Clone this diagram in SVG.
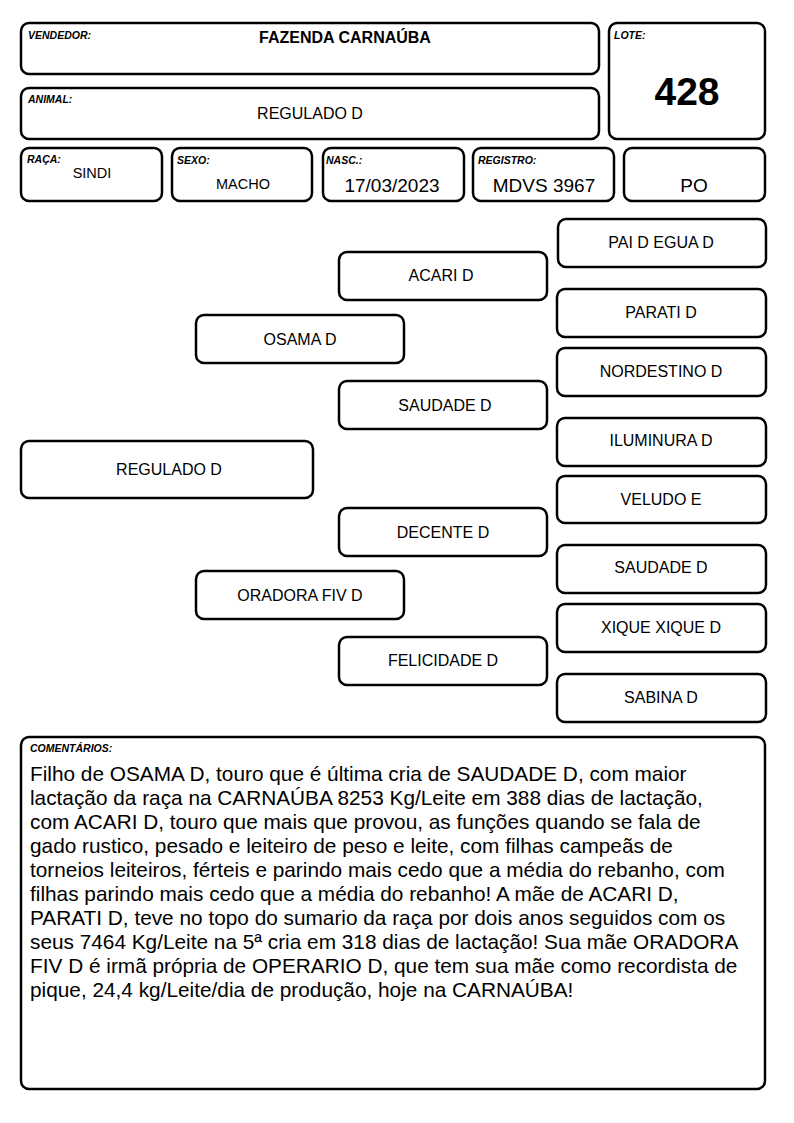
<svg xmlns="http://www.w3.org/2000/svg" width="794" height="1123" viewBox="0 0 794 1123">
<style>
rect.b{fill:#fff;stroke:#000;stroke-width:2.5}
text{font-family:"Liberation Sans",Arial,sans-serif;fill:#000}
.lbl{font-size:10.5px;font-weight:bold;font-style:italic}
.v{font-size:16px;text-anchor:middle}
.p{font-size:16px;text-anchor:middle}
.c{font-size:20.8px}
</style>
<rect width="794" height="1123" fill="#fff"/>
<g id="vendedor"><rect class="b" x="21" y="23" width="578" height="51" rx="8"/><text class="lbl" x="28" y="39">VENDEDOR:</text><text class="v" x="345" y="43" style="font-weight:bold">FAZENDA CARNAÚBA</text></g>
<g id="animal"><rect class="b" x="21" y="88" width="578" height="51" rx="8"/><text class="lbl" x="28" y="103">ANIMAL:</text><text class="v" x="310" y="119">REGULADO D</text></g>
<g id="lote"><rect class="b" x="609" y="23" width="156" height="116" rx="8"/><text class="lbl" x="614" y="39">LOTE:</text><text x="687" y="105" style="font-size:39px;font-weight:bold;text-anchor:middle">428</text></g>
<g id="raca"><rect class="b" x="21" y="148" width="141" height="53" rx="8"/><text class="lbl" x="27" y="163">RAÇA:</text><text class="v" x="92" y="178" style="font-size:14.5px">SINDI</text></g>
<g id="sexo"><rect class="b" x="172" y="148" width="140" height="53" rx="8"/><text class="lbl" x="177" y="164">SEXO:</text><text class="v" x="243" y="189" style="font-size:14.5px">MACHO</text></g>
<g id="nasc"><rect class="b" x="323" y="148" width="141" height="53" rx="8"/><text class="lbl" x="326" y="164">NASC.:</text><text class="v" x="392" y="192" style="font-size:19px">17/03/2023</text></g>
<g id="registro"><rect class="b" x="473" y="148" width="141" height="53" rx="8"/><text class="lbl" x="478" y="164">REGISTRO:</text><text class="v" x="544" y="192" style="font-size:19px">MDVS 3967</text></g>
<g id="po"><rect class="b" x="624" y="148" width="141" height="53" rx="8"/><text class="v" x="694" y="192" style="font-size:19px">PO</text></g>
<g id="n-regulado"><rect class="b" x="21" y="441" width="292" height="57" rx="8"/><text class="p" x="169" y="475">REGULADO D</text></g>
<g id="n-osama"><rect class="b" x="196" y="315" width="208" height="48" rx="8"/><text class="p" x="300" y="345">OSAMA D</text></g>
<g id="n-oradora"><rect class="b" x="196" y="571" width="208" height="48" rx="8"/><text class="p" x="300" y="601">ORADORA FIV D</text></g>
<g id="n-acari"><rect class="b" x="339" y="252" width="208" height="48" rx="8"/><text class="p" x="441" y="281">ACARI D</text></g>
<g id="n-saudade1"><rect class="b" x="339" y="381" width="208" height="48" rx="8"/><text class="p" x="445" y="411">SAUDADE D</text></g>
<g id="n-decente"><rect class="b" x="339" y="508" width="208" height="48" rx="8"/><text class="p" x="443" y="538">DECENTE D</text></g>
<g id="n-felicidade"><rect class="b" x="339" y="637" width="208" height="48" rx="8"/><text class="p" x="443" y="666">FELICIDADE D</text></g>
<g id="n-paidegua"><rect class="b" x="558" y="219" width="208" height="48" rx="8"/><text class="p" x="661" y="248">PAI D EGUA D</text></g>
<g id="n-parati"><rect class="b" x="557" y="289" width="209" height="48" rx="8"/><text class="p" x="661" y="318">PARATI D</text></g>
<g id="n-nordestino"><rect class="b" x="557" y="348" width="209" height="48" rx="8"/><text class="p" x="661" y="377">NORDESTINO D</text></g>
<g id="n-iluminura"><rect class="b" x="557" y="418" width="209" height="48" rx="8"/><text class="p" x="661" y="446">ILUMINURA D</text></g>
<g id="n-veludo"><rect class="b" x="557" y="476" width="209" height="47" rx="8"/><text class="p" x="661" y="505">VELUDO E</text></g>
<g id="n-saudade2"><rect class="b" x="557" y="545" width="209" height="48" rx="8"/><text class="p" x="661" y="573">SAUDADE D</text></g>
<g id="n-xique"><rect class="b" x="557" y="604" width="209" height="48" rx="8"/><text class="p" x="661" y="633">XIQUE XIQUE D</text></g>
<g id="n-sabina"><rect class="b" x="557" y="674" width="209" height="48" rx="8"/><text class="p" x="661" y="703">SABINA D</text></g>
<g id="connectors"></g>
<g id="comentarios"><rect class="b" x="21" y="737" width="744" height="352" rx="8"/><text class="lbl" x="30" y="752">COMENTÁRIOS:</text>
<text class="c">
<tspan x="30" y="781">Filho de OSAMA D, touro que é última cria de SAUDADE D, com maior</tspan>
<tspan x="30" y="805">lactação da raça na CARNAÚBA 8253 Kg/Leite em 388 dias de lactação,</tspan>
<tspan x="30" y="829">com ACARI D, touro que mais que provou, as funções quando se fala de</tspan>
<tspan x="30" y="853">gado rustico, pesado e leiteiro de peso e leite, com filhas campeãs de</tspan>
<tspan x="30" y="877">torneios leiteiros, férteis e parindo mais cedo que a média do rebanho, com</tspan>
<tspan x="30" y="901">filhas parindo mais cedo que a média do rebanho! A mãe de ACARI D,</tspan>
<tspan x="30" y="925">PARATI D, teve no topo do sumario da raça por dois anos seguidos com os</tspan>
<tspan x="30" y="949">seus 7464 Kg/Leite na 5ª cria em 318 dias de lactação! Sua mãe ORADORA</tspan>
<tspan x="30" y="973">FIV D é irmã própria de OPERARIO D, que tem sua mãe como recordista de</tspan>
<tspan x="30" y="997">pique, 24,4 kg/Leite/dia de produção, hoje na CARNAÚBA!</tspan>
</text></g>
</svg>
